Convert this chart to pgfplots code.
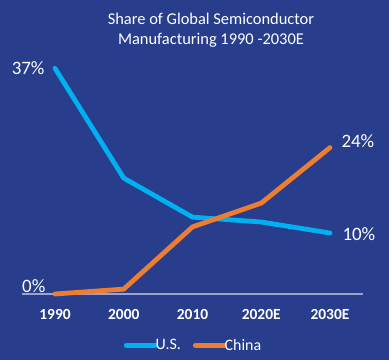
\documentclass[border=0pt]{standalone}
\usepackage{pgfplots}
\pgfplotsset{compat=1.18}
\usepackage{fontspec}
\setmainfont{Carlito}
\definecolor{bg}{RGB}{40,62,140}
\definecolor{usblue}{RGB}{0,176,240}
\definecolor{cnorange}{RGB}{237,125,49}
\definecolor{axgray}{RGB}{160,163,200}
\begin{document}
\begin{tikzpicture}
\useasboundingbox (0,0) rectangle (389bp,360bp);
\fill[bg] (0,0) rectangle (389bp,360bp);
\node[white, align=center, font=\fontsize{16.5}{20}\selectfont] at (211bp,330bp) {Share of Global Semiconductor\\Manufacturing 1990 -2030E};
\begin{axis}[
  at={(22bp,66bp)}, anchor=south west,
  scale only axis, width=341bp, height=244bp,
  xmin=-0.48, xmax=4.48, ymin=0, ymax=40,
  axis x line*=bottom, axis y line=none,
  x axis line style={axgray, line width=1.5pt, -},
  xtick={0,1,2,3,4},
  xticklabels={1990,2000,2010,2020E,2030E},
  major tick length=0pt,
  xticklabel style={white, font=\fontsize{15.5}{17}\bfseries\selectfont, yshift=-12bp},
  ytick=\empty,
  clip=false,
  legend columns=2,
  legend style={at={(0.503,-0.21)}, anchor=center, draw=none, fill=none,
    text=white, font=\fontsize{16}{18}\selectfont,
    /tikz/every even column/.append style={column sep=10bp}},
  legend image code/.code={\draw[#1, line cap=round] (0bp,0bp) -- (29bp,0bp);},
]
\addplot[usblue, line width=4.8pt, line cap=round, line join=round] coordinates {(0,37) (1,19) (2,12.6) (3,11.8) (4,10)};
\addlegendentry{\hspace{-4bp}U.S.}
\addplot[cnorange, line width=4.8pt, line cap=round, line join=round] coordinates {(0,0) (1,0.8) (2,11) (3,14.9) (4,24)};
\addlegendentry{\hspace{-4bp}China}
\node[white, anchor=east, font=\fontsize{19}{21}\selectfont] at (axis cs:0,37) [xshift=-7bp] {37\%};
\node[white, anchor=west, font=\fontsize{19}{21}\selectfont] at (axis cs:4,24) [xshift=8bp, yshift=6bp] {24\%};
\node[white, anchor=west, font=\fontsize{19}{21}\selectfont] at (axis cs:4,10) [xshift=9bp, yshift=-1bp] {10\%};
\node[white, anchor=south west, inner sep=0pt, font=\fontsize{19}{21}\selectfont] at (axis cs:-0.48,0) [yshift=1.5bp] {0\%};
\end{axis}
\end{tikzpicture}
\end{document}
